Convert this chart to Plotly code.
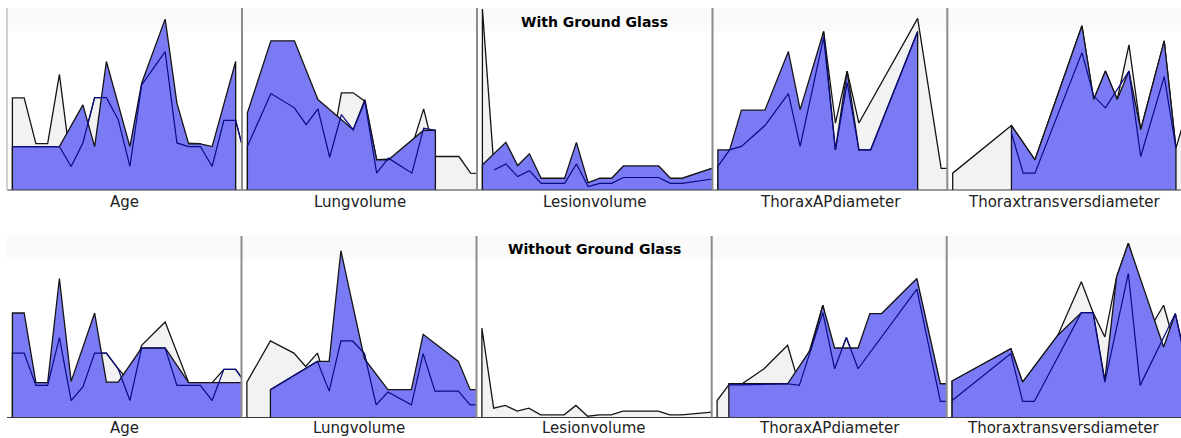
import plotly.graph_objects as go

W, H = 1181, 438

# ---------------------------------------------------------------
# Panel names and row titles
# ---------------------------------------------------------------
measures = ["Age", "Lungvolume", "Lesionvolume", "ThoraxAPdiameter", "Thoraxtransversdiameter"]
row_titles = ["With Ground Glass", "Without Ground Glass"]

# ---------------------------------------------------------------
# Profiles as (bin, value) pairs; bins run 0..20 along each panel,
# values are percent of the panel height.
#   *_grey : light grey area   *_blue : blue area   *_line : dark blue line
# ---------------------------------------------------------------
# --- With Ground Glass ---
gg_age_grey = [(0, 50.9), (1, 50.9), (2, 25.6), (3, 25.6), (4, 63.9), (5, 13), (6, 26), (7, 51), (8, 51),
               (9, 39), (10, 13), (11, 58), (13, 76.5), (14, 26), (15, 25.6), (16, 25.6), (17, 13),
               (18, 38.5), (19, 38.5), (20, 13.5)]
gg_age_blue = [(0, 24), (4, 24), (6, 47), (7, 24), (8, 71), (10, 24), (11, 59), (13, 94.4), (14, 48),
               (15, 25.5), (16, 25.5), (17, 24), (19, 71)]
gg_age_line = [(0, 24), (4, 24), (5, 13), (6, 26), (7, 51), (8, 51), (9, 39), (10, 13), (11, 58),
               (13, 76.5), (14, 26), (15, 24), (16, 24), (17, 13), (18, 38.5), (19, 38.5), (20, 13.5)]

gg_lung_grey = [(0, 24), (2, 53), (4, 45), (5, 36), (6, 44), (7, 18), (8, 53.7), (9, 53.7), (10, 49.1),
                (11, 16.7), (12, 17), (13, 14), (14, 24.1), (15, 44.8), (16, 18.5), (17, 18.5),
                (18, 18.5), (19, 9.3), (20, 9)]
gg_lung_blue = [(0, 42.6), (2, 82.4), (4, 82.4), (6, 50), (9, 33.3), (10, 50), (11, 16.7), (12, 16.7),
                (15, 33), (16, 33)]
gg_lung_line = [(0, 24.1), (2, 53.3), (4, 45.4), (5, 36.1), (6, 44.8), (7, 18.1), (8, 41.7), (9, 33.3),
                (10, 48.9), (11, 9.3), (12, 17.6), (14, 9.3), (15, 34.2), (16, 33)]

gg_lesion_grey = [(0, 100), (1, 11.1), (2, 14.4), (3, 7.4), (4, 10.7), (5, 3.7), (7, 3.7), (8, 14.4),
                  (9, 1.9), (10, 3.7), (11, 3.7), (12, 6.9), (15, 6.9), (16, 3.7), (17, 3.7), (20, 6.5)]
gg_lesion_blue = [(0, 13.9), (2, 26.3), (3, 13.5), (4, 20), (5, 6.5), (7, 6.5), (8, 26.3), (9, 4.1),
                  (10, 6.5), (11, 6.5), (12, 13.3), (15, 13.3), (16, 6.5), (17, 6.5), (20, 13)]
gg_lesion_line = [(1, 11.1), (2, 14.4), (3, 7.4), (4, 10.7), (5, 3.7), (7, 3.7), (8, 14.4), (9, 1.9),
                  (10, 3.7), (11, 3.7), (12, 6.9), (15, 6.9), (16, 3.7), (17, 3.7), (20, 6.5)]

gg_ap_grey = [(0, 13), (1, 22.2), (2, 24.1), (4, 35.6), (6, 53.3), (7, 24.1), (9, 87.6), (10, 37),
              (11, 65.7), (12, 37), (17, 94.8), (19, 12), (20, 12)]
gg_ap_blue = [(0, 22.2), (1, 22.2), (2, 44.1), (4, 44.1), (6, 76.5), (7, 44.4), (9, 87.6), (10, 22.2),
              (11, 65.7), (12, 22.2), (13, 22.2), (17, 87.6)]
gg_ap_line = [(0, 13), (1, 22.2), (2, 24.1), (4, 35.6), (6, 53.3), (7, 24.1), (9, 84.3), (10, 22.2),
              (11, 59.3), (12, 22.2), (13, 22.2), (17, 87.6)]

gg_trans_grey = [(0, 9.3), (5, 35.6), (7, 16.7), (11, 90.7), (12, 50), (13, 65.7), (14, 50), (15, 80.2),
                 (16, 33.3), (18, 82.4), (19, 23.1), (20, 45)]
gg_trans_blue = [(5, 35.6), (7, 16.7), (11, 90.7), (12, 50), (13, 65.7), (14, 50), (15, 65.7),
                 (16, 33.3), (18, 82.4), (19, 23.1)]
gg_trans_line = [(5, 31.5), (6, 9.3), (7, 9.3), (11, 75.9), (12, 51.9), (13, 45.4), (15, 65.7),
                 (16, 18.5), (18, 62.6), (19, 23.1)]

# --- Without Ground Glass ---
ng_age_grey = [(0, 35.7), (1, 35.7), (2, 17.8), (3, 17.8), (4, 44.3), (5, 9.4), (6, 16.9), (7, 35.7),
               (8, 35.7), (9, 27), (10, 19.6), (11, 40), (13, 52.9), (15, 19.3), (17, 19.3), (18, 26.7),
               (19, 26.7), (20, 18)]
ng_age_blue = [(0, 57.9), (1, 57.9), (2, 19.3), (3, 19.3), (4, 77), (5, 20), (7, 57.9), (8, 19.6),
               (9, 19.6), (11, 38.5), (13, 38.5), (15, 19.3), (19, 19.3), (20, 19.3)]
ng_age_line = [(0, 35.7), (1, 35.7), (2, 17.8), (3, 17.8), (4, 44.3), (5, 9.4), (6, 16.9), (7, 35.7),
               (8, 35.7), (9, 27), (10, 9.4), (11, 38.5), (13, 38.5), (14, 17.8), (16, 17.8), (17, 9.4),
               (18, 26.7), (19, 26.7), (20, 17)]

ng_lung_grey = [(0, 19.6), (2, 42.4), (4, 35.7), (5, 28.3), (6, 35.7), (7, 14.6), (8, 42.4), (9, 42.4),
                (10, 35.4), (11, 7), (12, 14.1), (14, 7), (15, 35.4), (16, 14.6), (18, 14.6), (19, 7),
                (20, 7)]
ng_lung_blue = [(2, 15.4), (6, 31.1), (7, 31.1), (8, 92.4), (10, 32.6), (12, 15.4), (14, 15.4),
                (15, 46.1), (18, 31.1), (19, 15.4), (20, 15.4)]
ng_lung_line = [(2, 15.4), (6, 31.1), (7, 14.6), (8, 42.4), (9, 42.4), (10, 35.4), (11, 7), (12, 14.1),
                (14, 7), (15, 35.4), (16, 14.6), (18, 14.6), (19, 7), (20, 7)]

ng_lesion_grey = [(0, 49.6), (1, 5.2), (2, 6.7), (3, 3.5), (4, 5.2), (5, 1.5), (7, 1.5), (8, 6.7),
                  (9, 0.7), (10, 1.5), (11, 1.5), (12, 3.5), (15, 3.5), (16, 1.5), (17, 1.5), (20, 3.2)]
ng_lesion_blue = []
ng_lesion_line = []

ng_ap_grey = [(0, 9.4), (1, 18.1), (2, 18.1), (4, 27), (6, 40), (7, 17.8), (9, 62.2), (10, 27),
              (11, 44.3), (12, 27), (17, 71.1), (19, 8.9), (20, 8.9)]
ng_ap_blue = [(1, 18.7), (6, 18.7), (8, 38.1), (9, 62.2), (10, 38.5), (12, 38.5), (13, 57.6),
              (14, 57.6), (17, 77), (19, 18.7), (20, 18.7)]
ng_ap_line = [(1, 18.1), (2, 18.1), (6, 18.7), (7, 17.8), (9, 58.1), (10, 27), (11, 44.3), (12, 27),
              (17, 71.1), (19, 8.9), (20, 8.9)]

ng_trans_grey = [(0, 20.2), (5, 38.1), (6, 19.6), (9, 45.6), (11, 75.2), (12, 58.1), (13, 44.6),
                 (14, 77.9), (15, 96.5), (16, 75.2), (17, 51.1), (18, 62.2), (19, 39.1), (20, 28.9)]
ng_trans_blue = [(0, 20.2), (5, 38.1), (6, 19.6), (9, 45.6), (11, 58.1), (12, 58.1), (13, 20.6),
                 (14, 77.9), (15, 96.5), (18, 39.1), (19, 57.6), (20, 28.9)]
ng_trans_line = [(0, 9.4), (5, 35.4), (6, 8.9), (7, 8.9), (11, 58.1), (12, 58.1), (13, 19.6),
                 (15, 79.8), (16, 17.8), (19, 57.6), (20, 27)]

rows = [
    [(gg_age_grey, gg_age_blue, gg_age_line), (gg_lung_grey, gg_lung_blue, gg_lung_line),
     (gg_lesion_grey, gg_lesion_blue, gg_lesion_line), (gg_ap_grey, gg_ap_blue, gg_ap_line),
     (gg_trans_grey, gg_trans_blue, gg_trans_line)],
    [(ng_age_grey, ng_age_blue, ng_age_line), (ng_lung_grey, ng_lung_blue, ng_lung_line),
     (ng_lesion_grey, ng_lesion_blue, ng_lesion_line), (ng_ap_grey, ng_ap_blue, ng_ap_line),
     (ng_trans_grey, ng_trans_blue, ng_trans_line)],
]

# ---------------------------------------------------------------
# Geometry (pixels)
# ---------------------------------------------------------------
panel_left = [[7, 242, 477, 712.5, 947.3], [7, 241.5, 476.5, 711.7, 946.7]]
panel_w = 235
bin_px = 11.75          # pixels per bin
bin_off = 5.4           # first bin's distance from the panel's left edge
row_top = [9, 237]      # top of the value scale
row_base = [190, 417.5] # baseline
label_y = [202, 428]
title_y = [22, 249]

GREY_FILL = "#f2f2f2"
BLUE_FILL = "#7a7af4"
OUTLINE = "#141414"
NAVY = "#0a0a85"


def fx(px):
    return px / W


def fy(py):
    return 1 - py / H


fig = go.Figure()
layout = {}


def area_trace(pairs, fill, xa, ya):
    xs = [p[0] for p in pairs]
    ys = [p[1] for p in pairs]
    return go.Scatter(
        x=[xs[0]] + xs + [xs[-1]], y=[0] + ys + [0], mode="lines",
        fill="tozeroy", fillcolor=fill, line=dict(color=OUTLINE, width=1.3),
        xaxis=xa, yaxis=ya, hoverinfo="skip", showlegend=False,
    )


def line_trace(pairs, xa, ya):
    return go.Scatter(
        x=[p[0] for p in pairs], y=[p[1] for p in pairs], mode="lines",
        line=dict(color=NAVY, width=1.2), xaxis=xa, yaxis=ya,
        hoverinfo="skip", showlegend=False,
    )


k = 0
for r in range(2):
    for c in range(5):
        k += 1
        suffix = "" if k == 1 else str(k)
        xa, ya = "x" + suffix, "y" + suffix
        left = panel_left[r][c]
        right = min(left + panel_w, W)
        layout["xaxis" + suffix] = dict(
            domain=[fx(left), fx(right)], anchor=ya,
            range=[-bin_off / bin_px, (right - left - bin_off) / bin_px],
            showgrid=False, zeroline=False, showticklabels=False, ticks="", showline=False,
        )
        layout["yaxis" + suffix] = dict(
            domain=[fy(row_base[r]), fy(row_top[r])], anchor=xa, range=[0, 100],
            showgrid=False, zeroline=False, showticklabels=False, ticks="", showline=False,
        )
        grey, blue, navy = rows[r][c]
        if grey:
            fig.add_trace(area_trace(grey, GREY_FILL, xa, ya))
        if blue:
            fig.add_trace(area_trace(blue, BLUE_FILL, xa, ya))
        if navy:
            fig.add_trace(line_trace(navy, xa, ya))

shapes = []
annotations = []
label_font = dict(family="DejaVu Sans", size=15, color="#222222")
for r in range(2):
    # faint band along the top of each row
    shapes.append(dict(type="rect", xref="paper", yref="paper", layer="below",
                       x0=fx(7), x1=1, y0=fy(row_top[r] + 22), y1=fy(row_top[r] - 1),
                       fillcolor="#fafafa", line=dict(width=0)))
    # baseline
    shapes.append(dict(type="line", xref="paper", yref="paper",
                       x0=fx(7), x1=1, y0=fy(row_base[r]), y1=fy(row_base[r]),
                       line=dict(color="#3a3a3a", width=1)))
    for c in range(5):
        left = panel_left[r][c]
        right = min(left + panel_w, W)
        # panel separators
        if not (c == 0 and r == 1):
            shapes.append(dict(type="line", xref="paper", yref="paper",
                               x0=fx(left), x1=fx(left), y0=fy(row_base[r]), y1=fy(row_top[r] - 1),
                               line=dict(color="#d0d0d0" if c == 0 else "#8c8c8c", width=2)))
        annotations.append(dict(text=measures[c], xref="paper", yref="paper",
                                x=fx((left + right) / 2), y=fy(label_y[r]),
                                xanchor="center", yanchor="middle", showarrow=False,
                                font=label_font))
    mid_left = panel_left[r][2]
    annotations.append(dict(text="<b>" + row_titles[r] + "</b>", xref="paper", yref="paper",
                            x=fx(mid_left + panel_w / 2), y=fy(title_y[r]),
                            xanchor="center", yanchor="middle", showarrow=False,
                            font=dict(family="DejaVu Sans", size=14, color="#000000")))

fig.update_layout(
    width=W, height=H, margin=dict(l=0, r=0, t=0, b=0),
    paper_bgcolor="white", plot_bgcolor="rgba(0,0,0,0)",
    shapes=shapes, annotations=annotations, showlegend=False,
    **layout,
)

fig.write_html("out.html")
